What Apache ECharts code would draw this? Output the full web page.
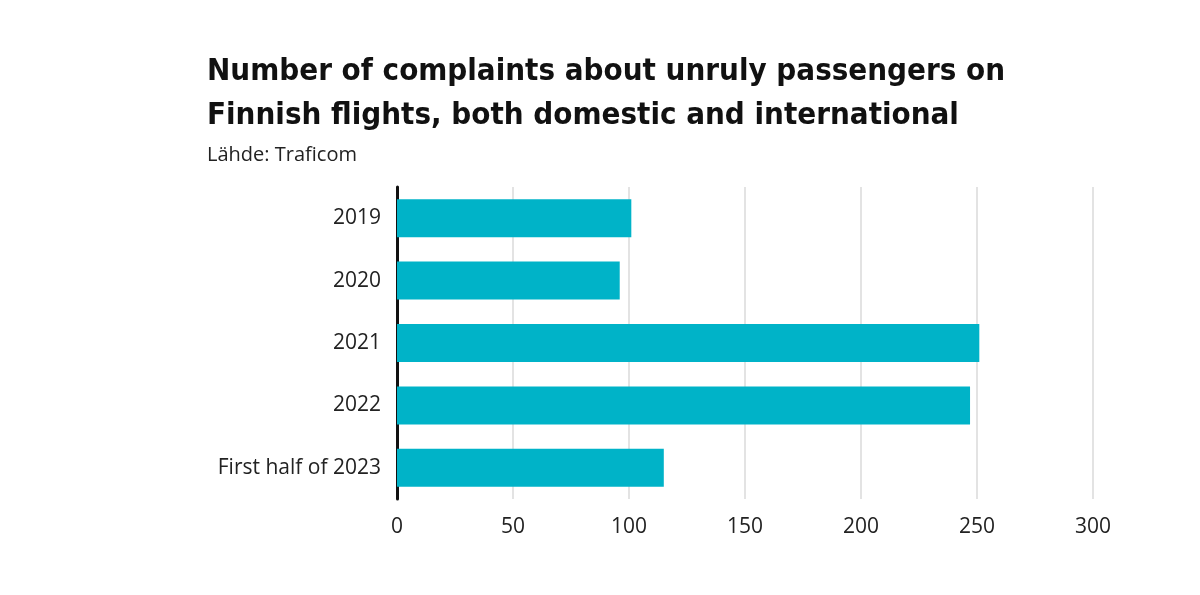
<!DOCTYPE html>
<html><head><meta charset="utf-8">
<script src="https://cdn.jsdelivr.net/npm/echarts@6/dist/echarts.min.js"></script>
<style>html,body{margin:0;padding:0;background:#fff}#c{width:1200px;height:595px}</style>
</head><body><div id="c"></div>
<script>
const categories = ['2019', '2020', '2021', '2022', 'First half of 2023'];
const values = [101, 96, 251, 247, 115];
const xTicks = [0, 50, 100, 150, 200, 250, 300];

const chart = echarts.init(document.getElementById('c'), null, {renderer: 'canvas'});
chart.setOption({
  animation: false,
  backgroundColor: '#ffffff',
  title: {
    text: 'Number of complaints about unruly passengers on\nFinnish flights, both domestic and international',
    subtext: 'Lähde: Traficom',
    left: 202, top: 45,
    itemGap: 7,
    textStyle: {fontFamily: 'DejaVu Sans Condensed', fontWeight: 'bold', fontSize: 31, lineHeight: 44, color: '#111'},
    subtextStyle: {fontFamily: 'Open Sans', fontSize: 20, color: '#222'}
  },
  grid: {left: 397, right: 107, top: 187, height: 312, containLabel: false},
  xAxis: {
    type: 'value', min: xTicks[0], max: xTicks[xTicks.length - 1], interval: 50,
    axisLine: {show: false}, axisTick: {show: false},
    splitLine: {show: true, lineStyle: {color: '#e3e3e3', width: 2}},
    axisLabel: {margin: 18, fontFamily: 'Open Sans', fontSize: 21, color: '#222'}
  },
  yAxis: {
    type: 'category', data: categories, inverse: true,
    axisLine: {show: true, onZero: false, lineStyle: {color: '#111', width: 3}},
    axisTick: {show: false},
    axisLabel: {margin: 16, fontFamily: 'Open Sans', fontSize: 21, color: '#222'}
  },
  series: [{
    type: 'bar', data: values, barWidth: 38,
    itemStyle: {color: '#00b3c8'}
  }]
});
</script></body></html>
